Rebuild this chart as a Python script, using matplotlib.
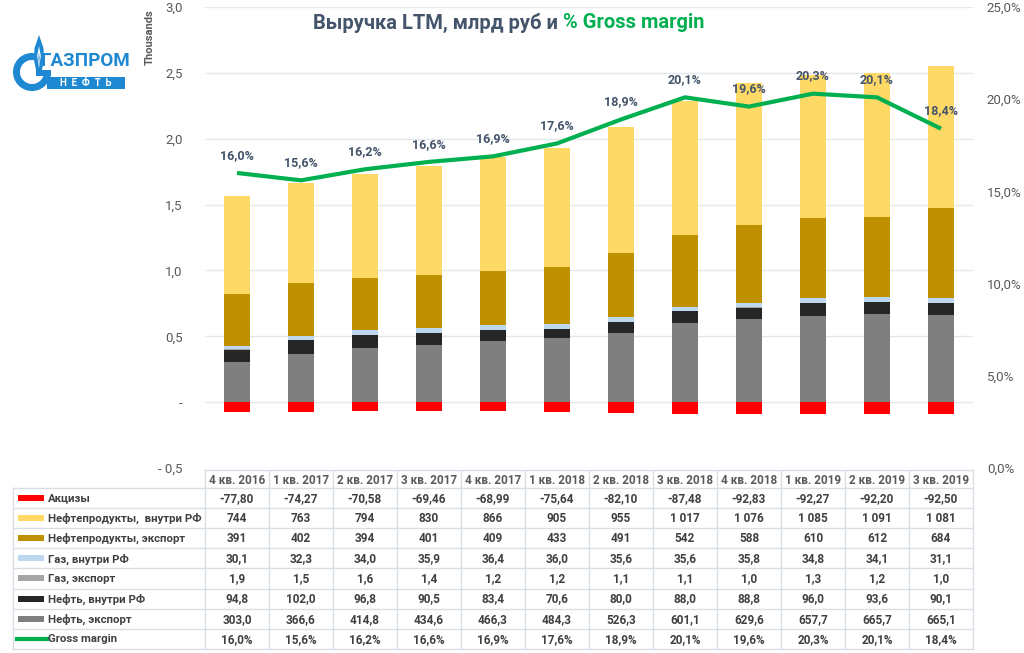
import numpy as np
import matplotlib.pyplot as plt
from matplotlib.patches import Rectangle, Wedge, Polygon
from matplotlib.ticker import FuncFormatter, MultipleLocator

plt.rcParams['font.family'] = ['Roboto', 'DejaVu Sans']

quarters = ['4 кв. 2016', '1 кв. 2017', '2 кв. 2017', '3 кв. 2017', '4 кв. 2017',
            '1 кв. 2018', '2 кв. 2018', '3 кв. 2018', '4 кв. 2018', '1 кв. 2019',
            '2 кв. 2019', '3 кв. 2019']

excise = [-77.80, -74.27, -70.58, -69.46, -68.99, -75.64, -82.10, -87.48, -92.83, -92.27, -92.20, -92.50]
prod_dom = [744, 763, 794, 830, 866, 905, 955, 1017, 1076, 1085, 1091, 1081]
prod_exp = [391, 402, 394, 401, 409, 433, 491, 542, 588, 610, 612, 684]
gas_dom = [30.1, 32.3, 34.0, 35.9, 36.4, 36.0, 35.6, 35.6, 35.8, 34.8, 34.1, 31.1]
gas_exp = [1.9, 1.5, 1.6, 1.4, 1.2, 1.2, 1.1, 1.1, 1.0, 1.3, 1.2, 1.0]
oil_dom = [94.8, 102.0, 96.8, 90.5, 83.4, 70.6, 80.0, 88.0, 88.8, 96.0, 93.6, 90.1]
oil_exp = [303.0, 366.6, 414.8, 434.6, 466.3, 484.3, 526.3, 601.1, 629.6, 657.7, 665.7, 665.1]
margin = [16.0, 15.6, 16.2, 16.6, 16.9, 17.6, 18.9, 20.1, 19.6, 20.3, 20.1, 18.4]

c_red = '#FF0000'
c_yel = '#FFD966'
c_gold = '#BF9000'
c_lblue = '#BDD7EE'
c_lgrey = '#A5A5A5'
c_black = '#262626'
c_grey = '#7F7F7F'
c_green = '#00B050'
txt = '#595959'

W, H = 1024, 653
fig = plt.figure(figsize=(W / 100, H / 100), dpi=100)

# plot area in pixels
x0, x1, y_top, y_bot = 205, 973, 7, 468
ax = fig.add_axes([x0 / W, 1 - y_bot / H, (x1 - x0) / W, (y_bot - y_top) / H])
n = len(quarters)
x = np.arange(n)
ax.set_xlim(-0.5, n - 0.5)
ax.set_ylim(-0.5, 3.0)

def thous(v, pos):
    if abs(v) < 1e-9:
        return '-'
    s = '{:.1f}'.format(abs(v)).replace('.', ',')
    return '- ' + s if v < 0 else s

ax.yaxis.set_major_locator(MultipleLocator(0.5))
ax.yaxis.set_major_formatter(FuncFormatter(thous))
ax.tick_params(axis='y', length=0, labelsize=9.5, labelcolor=txt, pad=16)
ax.set_xticks([])
for s in ax.spines.values():
    s.set_visible(False)
ax.grid(axis='y', color='#E4E8EE', linewidth=1)
ax.set_axisbelow(True)

bw = 0.42
stack = [(oil_exp, c_grey), (oil_dom, c_black), (gas_exp, c_lgrey),
         (gas_dom, c_lblue), (prod_exp, c_gold), (prod_dom, c_yel)]
bottom = np.zeros(n)
for vals, col in stack:
    v = np.array(vals) / 1000
    ax.bar(x, v, bw, bottom=bottom, color=col, zorder=2)
    bottom += v
ax.bar(x, np.array(excise) / 1000, bw, color=c_red, zorder=2)

ax2 = ax.twinx()
ax2.set_ylim(0, 25)
ax2.yaxis.set_major_locator(MultipleLocator(5))
ax2.yaxis.set_major_formatter(FuncFormatter(lambda v, p: '{:.1f}%'.format(v).replace('.', ',')))
ax2.tick_params(axis='y', length=0, labelsize=9.5, labelcolor=txt, pad=10)
for s in ax2.spines.values():
    s.set_visible(False)
ax2.plot(x, margin, color=c_green, linewidth=3, zorder=3, solid_capstyle='butt')
for xi, m in zip(x, margin):
    ax2.annotate('{:.1f}%'.format(m).replace('.', ','), (xi, m), xytext=(0, 8),
                 textcoords='offset points', ha='center', va='bottom',
                 fontsize=9, fontweight='bold', color='#44546A')

# title
fig.text(563 / W, 1 - 23 / H, 'Выручка LTM, млрд руб и ', ha='right', va='center',
         fontsize=14.5, fontweight='bold', color='#44546A')
fig.text(563 / W, 1 - 23 / H, '% Gross margin', ha='left', va='center',
         fontsize=14.5, fontweight='bold', color='#00B050')

# overlay axes in pixel coordinates for the table and logo
ov = fig.add_axes([0, 0, 1, 1])
ov.set_xlim(0, W)
ov.set_ylim(H, 0)
ov.axis('off')

ov.text(150, 37, 'Thousands', rotation=90, ha='center', va='center',
        fontsize=8, fontweight='bold', color=txt)

line_c = '#D9DEE6'
col_w = (x1 - x0) / n
hdr_top, hdr_bot = 470, 488
row_h = 20.1
rows = [('Акцизы', excise, 'bar', c_red, lambda v: '{:.2f}'.format(v).replace('.', ',')),
        ('Нефтепродукты,  внутри РФ', prod_dom, 'bar', c_yel,
         lambda v: '{:,}'.format(v).replace(',', ' ')),
        ('Нефтепродукты, экспорт', prod_exp, 'bar', c_gold, lambda v: '{}'.format(v)),
        ('Газ, внутри РФ', gas_dom, 'bar', c_lblue, lambda v: '{:.1f}'.format(v).replace('.', ',')),
        ('Газ, экспорт', gas_exp, 'bar', c_lgrey, lambda v: '{:.1f}'.format(v).replace('.', ',')),
        ('Нефть, внутри РФ', oil_dom, 'bar', c_black, lambda v: '{:.1f}'.format(v).replace('.', ',')),
        ('Нефть, экспорт', oil_exp, 'bar', c_grey, lambda v: '{:.1f}'.format(v).replace('.', ',')),
        ('Gross margin', margin, 'line', c_green, lambda v: '{:.1f}%'.format(v).replace('.', ','))]

tab_left = 13
tab_bot = hdr_bot + row_h * len(rows)
# header
ov.plot([x0, x1], [hdr_top, hdr_top], color=line_c, lw=1)
for i in range(n + 1):
    xe = x0 + i * col_w
    ov.plot([xe, xe], [hdr_top, tab_bot], color=line_c, lw=1)
for i, q in enumerate(quarters):
    ov.text(x0 + (i + 0.5) * col_w, (hdr_top + hdr_bot) / 2 + 1, q, ha='center', va='center',
            fontsize=8.5, fontweight='bold', color=txt)
ov.plot([tab_left, tab_left], [hdr_bot, tab_bot], color=line_c, lw=1)
for r in range(len(rows) + 1):
    ye = hdr_bot + r * row_h
    ov.plot([tab_left, x1], [ye, ye], color=line_c, lw=1)
for r, (name, vals, kind, col, fmt) in enumerate(rows):
    yc = hdr_bot + (r + 0.5) * row_h
    if kind == 'bar':
        ov.add_patch(Rectangle((18, yc - 3), 26, 6, color=col, lw=0))
    else:
        ov.plot([17, 47], [yc, yc], color=col, lw=3)
    ov.text(48, yc + 0.5, name, ha='left', va='center', fontsize=8.2,
            fontweight='bold', color='#404040')
    for i, v in enumerate(vals):
        ov.text(x0 + (i + 0.5) * col_w, yc + 0.5, fmt(v), ha='center', va='center',
                fontsize=8.5, fontweight='bold', color='#404040')

# logo
blue = '#1E88D2'
ov.add_patch(Wedge((32, 72), 19, 0, 282, width=7, color=blue, lw=0))
ov.add_patch(Rectangle((36, 70), 15, 6, color=blue, lw=0))
ov.add_patch(Polygon([[39, 35], [34.5, 48], [34, 60], [36, 70], [39, 74], [42, 70],
                      [44, 60], [43.5, 48]], closed=True, color=blue, lw=0))
ov.add_patch(Polygon([[39, 46], [37.2, 56], [39, 68], [40.8, 56]], closed=True, color='white', lw=0))
ov.add_patch(Polygon([[39, 52], [38.4, 58], [39, 66], [39.6, 58]], closed=True, color=blue, lw=0))
ov.text(86, 61, 'ГАЗПРОМ', ha='center', va='center', fontsize=13.5, fontweight='bold',
        color=blue)
ov.add_patch(Rectangle((47, 77), 78, 12, color=blue, lw=0))
ov.text(86, 83, 'Н  Е  Ф  Т  Ь', ha='center', va='center', fontsize=7,
        fontweight='bold', color='white')

fig.savefig('out.png', dpi=100)
